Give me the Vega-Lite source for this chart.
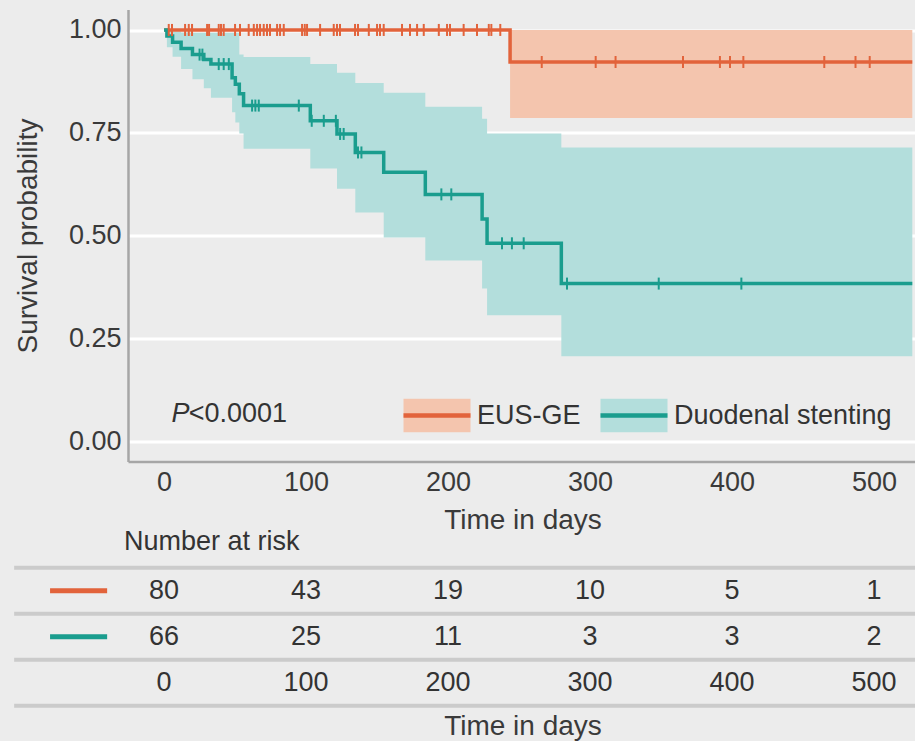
{
  "$schema": "https://vega.github.io/schema/vega-lite/v6.json",
  "background": "#ececec",
  "padding": {"left": 12, "top": 9.4, "right": 0, "bottom": 0},
  "bounds": "flush",
  "spacing": 105.4,
  "resolve": {"scale": {"x": "independent", "y": "independent", "stroke": "independent"}, "legend": {"stroke": "independent"}},
  "config": {
    "font": "Liberation Sans",
    "view": {"stroke": null},
    "axis": {"labelFont": "Liberation Sans", "titleFont": "Liberation Sans", "labelColor": "#3a3a3a", "titleColor": "#3a3a3a", "titleFontWeight": "normal", "labelFontSize": 27, "titleFontSize": 28, "domainColor": "#a6a6a6", "domainWidth": 2.5, "ticks": false, "grid": false},
    "legend": {"labelFont": "Liberation Sans", "labelFontSize": 27, "labelColor": "#333333", "labelLimit": 0}
  },
  "datasets": {
    "curve": [
      {"group": "EUS-GE", "time": 0, "surv": 1, "lower": 1, "upper": 1},
      {"group": "EUS-GE", "time": 243.7, "surv": 0.922, "lower": 0.786, "upper": 1.0},
      {"group": "EUS-GE", "time": 527, "surv": 0.922, "lower": 0.786, "upper": 1.0},
      {"group": "Duodenal stenting", "time": 0, "surv": 1, "lower": 1, "upper": 1},
      {"group": "Duodenal stenting", "time": 2, "surv": 0.985, "lower": 0.958, "upper": 1.0},
      {"group": "Duodenal stenting", "time": 6, "surv": 0.97, "lower": 0.935, "upper": 0.996},
      {"group": "Duodenal stenting", "time": 12, "surv": 0.955, "lower": 0.905, "upper": 0.994},
      {"group": "Duodenal stenting", "time": 20, "surv": 0.94, "lower": 0.88, "upper": 0.993},
      {"group": "Duodenal stenting", "time": 28, "surv": 0.928, "lower": 0.858, "upper": 0.993},
      {"group": "Duodenal stenting", "time": 33, "surv": 0.917, "lower": 0.835, "upper": 0.993},
      {"group": "Duodenal stenting", "time": 47.9, "surv": 0.884, "lower": 0.8, "upper": 0.993},
      {"group": "Duodenal stenting", "time": 50.2, "surv": 0.868, "lower": 0.775, "upper": 0.993},
      {"group": "Duodenal stenting", "time": 53, "surv": 0.845, "lower": 0.748, "upper": 0.94},
      {"group": "Duodenal stenting", "time": 56, "surv": 0.816, "lower": 0.711, "upper": 0.934},
      {"group": "Duodenal stenting", "time": 103, "surv": 0.779, "lower": 0.663, "upper": 0.917},
      {"group": "Duodenal stenting", "time": 121.8, "surv": 0.747, "lower": 0.614, "upper": 0.896},
      {"group": "Duodenal stenting", "time": 134.7, "surv": 0.702, "lower": 0.556, "upper": 0.871},
      {"group": "Duodenal stenting", "time": 154.7, "surv": 0.654, "lower": 0.495, "upper": 0.847},
      {"group": "Duodenal stenting", "time": 184, "surv": 0.6, "lower": 0.439, "upper": 0.813},
      {"group": "Duodenal stenting", "time": 224, "surv": 0.54, "lower": 0.371, "upper": 0.784},
      {"group": "Duodenal stenting", "time": 227.5, "surv": 0.481, "lower": 0.306, "upper": 0.748},
      {"group": "Duodenal stenting", "time": 279.8, "surv": 0.383, "lower": 0.206, "upper": 0.714},
      {"group": "Duodenal stenting", "time": 527, "surv": 0.383, "lower": 0.206, "upper": 0.714}
    ],
    "censor": [
      {"group": "EUS-GE", "time": 3.3, "surv": 1}, {"group": "EUS-GE", "time": 5.6, "surv": 1},
      {"group": "EUS-GE", "time": 14.8, "surv": 1}, {"group": "EUS-GE", "time": 17.4, "surv": 1},
      {"group": "EUS-GE", "time": 19.7, "surv": 1}, {"group": "EUS-GE", "time": 30.3, "surv": 1},
      {"group": "EUS-GE", "time": 31.7, "surv": 1}, {"group": "EUS-GE", "time": 38.5, "surv": 1},
      {"group": "EUS-GE", "time": 40.1, "surv": 1}, {"group": "EUS-GE", "time": 42, "surv": 1},
      {"group": "EUS-GE", "time": 50, "surv": 1}, {"group": "EUS-GE", "time": 53.5, "surv": 1},
      {"group": "EUS-GE", "time": 59.6, "surv": 1}, {"group": "EUS-GE", "time": 63.2, "surv": 1},
      {"group": "EUS-GE", "time": 65.5, "surv": 1}, {"group": "EUS-GE", "time": 67.6, "surv": 1},
      {"group": "EUS-GE", "time": 70.2, "surv": 1}, {"group": "EUS-GE", "time": 72.5, "surv": 1},
      {"group": "EUS-GE", "time": 74.6, "surv": 1}, {"group": "EUS-GE", "time": 79.6, "surv": 1},
      {"group": "EUS-GE", "time": 81.7, "surv": 1}, {"group": "EUS-GE", "time": 84.3, "surv": 1},
      {"group": "EUS-GE", "time": 97.2, "surv": 1}, {"group": "EUS-GE", "time": 99.1, "surv": 1},
      {"group": "EUS-GE", "time": 100.7, "surv": 1}, {"group": "EUS-GE", "time": 109.9, "surv": 1},
      {"group": "EUS-GE", "time": 119.5, "surv": 1}, {"group": "EUS-GE", "time": 121.8, "surv": 1},
      {"group": "EUS-GE", "time": 123.9, "surv": 1}, {"group": "EUS-GE", "time": 134.5, "surv": 1},
      {"group": "EUS-GE", "time": 136.6, "surv": 1}, {"group": "EUS-GE", "time": 144.2, "surv": 1},
      {"group": "EUS-GE", "time": 150, "surv": 1}, {"group": "EUS-GE", "time": 152.1, "surv": 1},
      {"group": "EUS-GE", "time": 154.7, "surv": 1}, {"group": "EUS-GE", "time": 167.6, "surv": 1},
      {"group": "EUS-GE", "time": 173.2, "surv": 1}, {"group": "EUS-GE", "time": 178.2, "surv": 1},
      {"group": "EUS-GE", "time": 182.9, "surv": 1}, {"group": "EUS-GE", "time": 193.5, "surv": 1},
      {"group": "EUS-GE", "time": 199.3, "surv": 1}, {"group": "EUS-GE", "time": 201.4, "surv": 1},
      {"group": "EUS-GE", "time": 211, "surv": 1}, {"group": "EUS-GE", "time": 220.4, "surv": 1},
      {"group": "EUS-GE", "time": 228.7, "surv": 1}, {"group": "EUS-GE", "time": 230.5, "surv": 1},
      {"group": "EUS-GE", "time": 236.8, "surv": 1},
      {"group": "EUS-GE", "time": 266, "surv": 0.922}, {"group": "EUS-GE", "time": 304, "surv": 0.922},
      {"group": "EUS-GE", "time": 318, "surv": 0.922}, {"group": "EUS-GE", "time": 365.5, "surv": 0.922},
      {"group": "EUS-GE", "time": 391.5, "surv": 0.922}, {"group": "EUS-GE", "time": 398.6, "surv": 0.922},
      {"group": "EUS-GE", "time": 408, "surv": 0.922}, {"group": "EUS-GE", "time": 465, "surv": 0.922},
      {"group": "EUS-GE", "time": 487, "surv": 0.922}, {"group": "EUS-GE", "time": 497, "surv": 0.922},
      {"group": "Duodenal stenting", "time": 25, "surv": 0.94}, {"group": "Duodenal stenting", "time": 27, "surv": 0.94},
      {"group": "Duodenal stenting", "time": 38.5, "surv": 0.917}, {"group": "Duodenal stenting", "time": 42, "surv": 0.917},
      {"group": "Duodenal stenting", "time": 45.6, "surv": 0.917}, {"group": "Duodenal stenting", "time": 62, "surv": 0.816},
      {"group": "Duodenal stenting", "time": 64.3, "surv": 0.816}, {"group": "Duodenal stenting", "time": 66.7, "surv": 0.816},
      {"group": "Duodenal stenting", "time": 94.9, "surv": 0.816}, {"group": "Duodenal stenting", "time": 104, "surv": 0.779},
      {"group": "Duodenal stenting", "time": 112.5, "surv": 0.779}, {"group": "Duodenal stenting", "time": 121, "surv": 0.779},
      {"group": "Duodenal stenting", "time": 124, "surv": 0.747}, {"group": "Duodenal stenting", "time": 126.5, "surv": 0.747},
      {"group": "Duodenal stenting", "time": 136.6, "surv": 0.702}, {"group": "Duodenal stenting", "time": 139, "surv": 0.702},
      {"group": "Duodenal stenting", "time": 195.3, "surv": 0.6}, {"group": "Duodenal stenting", "time": 202.3, "surv": 0.6},
      {"group": "Duodenal stenting", "time": 238, "surv": 0.481}, {"group": "Duodenal stenting", "time": 245, "surv": 0.481},
      {"group": "Duodenal stenting", "time": 253.3, "surv": 0.481}, {"group": "Duodenal stenting", "time": 283.8, "surv": 0.383},
      {"group": "Duodenal stenting", "time": 348.4, "surv": 0.383}, {"group": "Duodenal stenting", "time": 406.6, "surv": 0.383}
    ],
    "rows": [
      {"row": "EUS-GE"}, {"row": "Duodenal stenting"}, {"row": "time"}
    ],
    "risk": [
      {"row": "EUS-GE", "time": 0, "n": "80"}, {"row": "EUS-GE", "time": 100, "n": "43"},
      {"row": "EUS-GE", "time": 200, "n": "19"}, {"row": "EUS-GE", "time": 300, "n": "10"},
      {"row": "EUS-GE", "time": 400, "n": "5"}, {"row": "EUS-GE", "time": 500, "n": "1"},
      {"row": "Duodenal stenting", "time": 0, "n": "66"}, {"row": "Duodenal stenting", "time": 100, "n": "25"},
      {"row": "Duodenal stenting", "time": 200, "n": "11"}, {"row": "Duodenal stenting", "time": 300, "n": "3"},
      {"row": "Duodenal stenting", "time": 400, "n": "3"}, {"row": "Duodenal stenting", "time": 500, "n": "2"},
      {"row": "time", "time": 0, "n": "0"}, {"row": "time", "time": 100, "n": "100"},
      {"row": "time", "time": 200, "n": "200"}, {"row": "time", "time": 300, "n": "300"},
      {"row": "time", "time": 400, "n": "400"}, {"row": "time", "time": 500, "n": "500"}
    ],
    "notes": [
      {"italic": "P", "rest": "<0.0001", "time": 5.3, "time2": 17.3, "surv": 0.066}
    ]
  },
  "vconcat": [
    {
      "width": 789,
      "height": 452.2,
      "layer": [
        {
          "data": {"name": "curve"},
          "mark": {"type": "area", "interpolate": "step-after", "opacity": 1},
          "encoding": {
            "x": {"field": "time", "type": "quantitative", "scale": {"domain": [-25.4, 530.3], "nice": false, "zero": false},
              "axis": {"values": [0, 100, 200, 300, 400, 500], "title": "Time in days", "labelPadding": 8, "titlePadding": 11, "labelFlush": false}},
            "y": {"field": "lower", "type": "quantitative", "scale": {"domain": [-0.05, 1.05], "nice": false, "zero": false},
              "axis": {"values": [0, 0.25, 0.5, 0.75, 1], "format": ".2f", "grid": true, "gridColor": "#ffffff", "gridWidth": 3, "title": "Survival probability", "labelPadding": 7, "titlePadding": 26}},
            "y2": {"field": "upper"},
            "fill": {"field": "group", "type": "nominal",
              "scale": {"domain": ["EUS-GE", "Duodenal stenting"], "range": ["#f4c5ae", "#b3dedc"]},
              "legend": null}
          }
        },
        {
          "data": {"name": "curve"},
          "mark": {"type": "line", "interpolate": "step-after", "strokeWidth": 3.5},
          "encoding": {
            "x": {"field": "time", "type": "quantitative"},
            "y": {"field": "surv", "type": "quantitative"},
            "stroke": {"field": "group", "type": "nominal",
              "scale": {"domain": ["EUS-GE", "Duodenal stenting"], "range": ["#e2633b", "#1a9d8e"]},
              "legend": {"orient": "none", "legendX": 273, "legendY": 370, "direction": "horizontal", "title": null, "padding": 0,
                "symbolType": "M-1,0H1V0.5H-1Z M-1,0H1V-0.5H-1Z", "symbolSize": 4489, "symbolStrokeWidth": 4.5, "symbolDash": [67, 3000],
                "labelOffset": 4, "columnPadding": 10,
                "encode": {"symbols": {"update": {
                  "fill": {"signal": "datum.value === 'EUS-GE' ? '#f4c5ae' : '#b3dedc'"},
                  "fillOpacity": {"value": 1}, "opacity": {"value": 1}, "strokeOpacity": {"value": 1}}}}}}
          }
        },
        {
          "data": {"name": "censor"},
          "transform": [{"filter": "datum.group === 'EUS-GE'"}],
          "mark": {"type": "point", "shape": "M0,-1L0,1", "size": 144, "strokeWidth": 2, "filled": false, "opacity": 1, "stroke": "#e2633b"},
          "encoding": {
            "x": {"field": "time", "type": "quantitative"},
            "y": {"field": "surv", "type": "quantitative"}
          }
        },
        {
          "data": {"name": "censor"},
          "transform": [{"filter": "datum.group === 'Duodenal stenting'"}],
          "mark": {"type": "point", "shape": "M0,-1L0,1", "size": 144, "strokeWidth": 2, "filled": false, "opacity": 1, "stroke": "#1a9d8e"},
          "encoding": {
            "x": {"field": "time", "type": "quantitative"},
            "y": {"field": "surv", "type": "quantitative"}
          }
        },
        {
          "data": {"name": "notes"},
          "mark": {"type": "text", "fontStyle": "italic", "fontSize": 27, "align": "left", "baseline": "middle", "color": "#333333"},
          "encoding": {
            "x": {"field": "time", "type": "quantitative"},
            "y": {"field": "surv", "type": "quantitative"},
            "text": {"field": "italic"}
          }
        },
        {
          "data": {"name": "notes"},
          "mark": {"type": "text", "fontSize": 27, "align": "left", "baseline": "middle", "color": "#333333"},
          "encoding": {
            "x": {"field": "time2", "type": "quantitative"},
            "y": {"field": "surv", "type": "quantitative"},
            "text": {"field": "rest"}
          }
        }
      ]
    },
    {
      "width": 789,
      "height": 138,
      "title": {"text": "Number at risk", "anchor": "start", "frame": "group", "dx": -4, "offset": 10, "fontSize": 27, "fontWeight": "normal", "color": "#333333", "font": "Liberation Sans"},
      "layer": [
        {
          "data": {"name": "rows"},
          "mark": {"type": "rule", "stroke": "#cbcbcb", "strokeWidth": 4},
          "encoding": {
            "y": {"field": "row", "type": "nominal", "bandPosition": 0,
              "scale": {"type": "band", "domain": ["EUS-GE", "Duodenal stenting", "time"], "paddingInner": 0, "paddingOuter": 0}, "axis": null},
            "x": {"datum": -105.6, "type": "quantitative", "scale": {"domain": [-25.4, 530.3], "nice": false, "zero": false},
              "axis": {"title": "Time in days", "labels": false, "ticks": false, "domain": false, "grid": false, "titlePadding": 7}},
            "x2": {"datum": 530.3}
          }
        },
        {
          "data": {"name": "rows"},
          "transform": [{"filter": "datum.row === 'time'"}],
          "mark": {"type": "rule", "stroke": "#cbcbcb", "strokeWidth": 4},
          "encoding": {
            "y": {"field": "row", "type": "nominal", "bandPosition": 1},
            "x": {"datum": -105.6, "type": "quantitative"},
            "x2": {"datum": 530.3}
          }
        },
        {
          "data": {"name": "rows"},
          "transform": [{"filter": "datum.row !== 'time'"}],
          "mark": {"type": "rule", "strokeWidth": 5},
          "encoding": {
            "y": {"field": "row", "type": "nominal", "bandPosition": 0.5},
            "x": {"datum": -80.3, "type": "quantitative"},
            "x2": {"datum": -40.1},
            "stroke": {"field": "row", "type": "nominal", "scale": {"domain": ["EUS-GE", "Duodenal stenting"], "range": ["#e2633b", "#1a9d8e"]}, "legend": null}
          }
        },
        {
          "data": {"name": "risk"},
          "mark": {"type": "text", "fontSize": 27, "color": "#333333", "baseline": "middle"},
          "encoding": {
            "y": {"field": "row", "type": "nominal", "bandPosition": 0.5},
            "x": {"field": "time", "type": "quantitative"},
            "text": {"field": "n"}
          }
        }
      ]
    }
  ]
}
